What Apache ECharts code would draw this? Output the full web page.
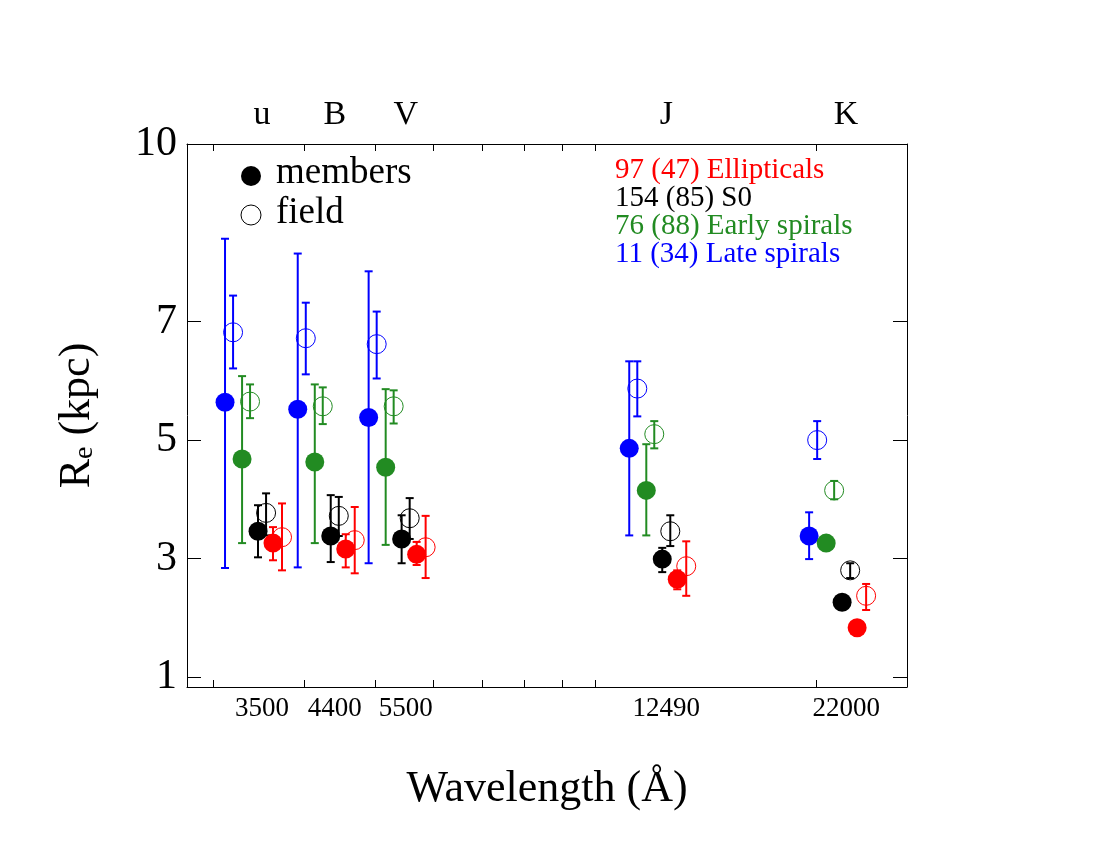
<!DOCTYPE html>
<html><head><meta charset="utf-8">
<script src="https://cdn.jsdelivr.net/npm/echarts@6/dist/echarts.min.js"></script>
<style>html,body{margin:0;background:#fff}#c{width:1100px;height:850px}</style>
</head><body><div id="c"></div>
<script>
const bands = ['u','B','V','J','K'];
const wavelengths = [3500, 4400, 5500, 12490, 22000];
const xTickWl = [3000,4000,5000,6000,7000,8000,9000,10000,20000];
const yTicks = [1,3,5,7,10];
// [value, low, high] per band
const ellMem = [[3.26,2.97,3.53],[3.16,2.85,3.41],[3.07,2.89,3.28],[2.65,2.48,2.80],[1.83,null,null]];
const ellFld = [[3.36,2.80,3.93],[3.31,2.75,3.87],[3.19,2.67,3.72],[2.87,2.37,3.29],[2.37,2.13,2.57]];
const s0Mem  = [[3.46,3.02,3.90],[3.38,2.94,4.07],[3.33,2.92,3.73],[2.99,2.77,3.18],[2.26,null,null]];
const s0Fld  = [[3.77,3.39,4.10],[3.72,3.38,4.04],[3.68,3.33,4.02],[3.46,3.21,3.73],[2.80,2.67,2.92]];
const esMem  = [[4.68,3.26,6.08],[4.63,3.26,5.94],[4.54,3.23,5.86],[4.15,3.39,4.93],[3.26,null,null]];
const esFld  = [[5.65,5.37,5.94],[5.57,5.27,5.89],[5.57,5.28,5.84],[5.10,4.86,5.32],[4.15,4.00,4.31]];
const lsMem  = [[5.64,2.84,8.40],[5.52,2.85,8.15],[5.38,2.92,7.85],[4.86,3.39,6.33],[3.38,2.99,3.78]];
const lsFld  = [[6.82,6.21,7.44],[6.72,6.11,7.32],[6.62,6.04,7.17],[5.87,5.40,6.33],[5.00,4.68,5.32]];

const RED='#ff0000', BLK='#000000', GRN='#228b22', BLU='#0000ff';
const groups = [
  {d:lsMem, c:BLU, filled:true,  off:-0.0506},
  {d:lsFld, c:BLU, filled:false, off:-0.0396},
  {d:esMem, c:GRN, filled:true,  off:-0.0273},
  {d:esFld, c:GRN, filled:false, off:-0.0164},
  {d:s0Mem, c:BLK, filled:true,  off:-0.0055},
  {d:s0Fld, c:BLK, filled:false, off:0.0055},
  {d:ellMem,c:RED, filled:true,  off:0.015},
  {d:ellFld,c:RED, filled:false, off:0.0273}
];
const L = Math.log10;
const XMIN=3.4415, XMAX=4.4256;
const font='Liberation Serif';
const series=[];
groups.forEach(g=>{
  const pts = g.d.map((v,i)=>[L(wavelengths[i])+g.off, v[0], v[1], v[2]]);
  series.push({type:'custom', data:pts.filter(p=>p[2]!=null), z:2,
    renderItem:(params,api)=>{
      const x=api.value(0);
      const a=api.coord([x,api.value(2)]), b=api.coord([x,api.value(3)]);
      const w=4;
      const st={stroke:g.c,lineWidth:2};
      return {type:'group',children:[
        {type:'line',shape:{x1:a[0],y1:a[1],x2:b[0],y2:b[1]},style:st},
        {type:'line',shape:{x1:a[0]-w,y1:a[1],x2:a[0]+w,y2:a[1]},style:st},
        {type:'line',shape:{x1:b[0]-w,y1:b[1],x2:b[0]+w,y2:b[1]},style:st}]};
    }});
  series.push({type:'scatter', data:pts.map(p=>[p[0],p[1]]), symbol:'circle', z:3,
    symbolSize:19,
    itemStyle: g.filled?{color:g.c,opacity:1}:{color:'rgba(0,0,0,0)',borderColor:g.c,borderWidth:1,opacity:1}});
});
const fmt=(arr)=>v=>{const i=wavelengths.findIndex(w=>Math.abs(L(w)-v)<1e-6);return i>=0?arr[i]:''};
const chart=echarts.init(document.getElementById('c'));
chart.setOption({
  animation:false,
  grid:{left:187,right:193,top:144,bottom:163},
  xAxis:[{type:'value',min:XMIN,max:XMAX,position:'bottom',
      axisLine:{show:true,onZero:false,lineStyle:{color:'#000'}},splitLine:{show:false},
      axisTick:{show:true,inside:true,length:7,customValues:xTickWl.map(L),lineStyle:{color:'#000'}},
      axisLabel:{customValues:wavelengths.map(L),formatter:fmt(wavelengths),
        color:'#000',fontFamily:font,fontSize:27,margin:8},
      name:'Wavelength (Å)',nameLocation:'middle',nameGap:80,nameTextStyle:{fontFamily:font,fontSize:44,color:'#000'}},
    {type:'value',min:XMIN,max:XMAX,position:'top',
      axisLine:{show:true,onZero:false,lineStyle:{color:'#000'}},splitLine:{show:false},
      axisTick:{show:true,inside:true,length:7,customValues:xTickWl.map(L),lineStyle:{color:'#000'}},
      axisLabel:{customValues:wavelengths.map(L),formatter:fmt(bands),
        color:'#000',fontFamily:font,fontSize:34,margin:12}}],
  yAxis:[{type:'value',min:0.83,max:10,
      axisLine:{show:true,onZero:false,lineStyle:{color:'#000'}},splitLine:{show:false},
      axisTick:{show:true,inside:true,length:14,customValues:yTicks,lineStyle:{color:'#000'}},
      axisLabel:{customValues:yTicks,color:'#000',fontFamily:font,fontSize:42,margin:10},
      name:'{a|R}{b|e}{a| (kpc)}',nameLocation:'middle',nameGap:88,nameRotate:90,
      nameTextStyle:{rich:{a:{fontFamily:font,fontSize:44,color:'#000'},b:{fontFamily:font,fontSize:28,color:'#000',verticalAlign:'bottom'}}}},
    {type:'value',min:0.83,max:10,position:'right',
      axisLine:{show:true,onZero:false,lineStyle:{color:'#000'}},splitLine:{show:false},
      axisTick:{show:true,inside:true,length:14,customValues:yTicks,lineStyle:{color:'#000'}},
      axisLabel:{show:false}}],
  graphic:[
    {type:'circle',shape:{cx:251,cy:176,r:10},style:{fill:'#000'}},
    {type:'circle',shape:{cx:251,cy:215,r:10},style:{fill:'none',stroke:'#000',lineWidth:1}},
    {type:'text',left:276,top:155,style:{text:'members',font:'37px "Liberation Serif"',fill:'#000'}},
    {type:'text',left:276,top:195,style:{text:'field',font:'37px "Liberation Serif"',fill:'#000'}},
    {type:'text',left:615,top:156,style:{text:'97 (47) Ellipticals',font:'29px "Liberation Serif"',fill:RED}},
    {type:'text',left:615,top:184,style:{text:'154 (85) S0',font:'29px "Liberation Serif"',fill:BLK}},
    {type:'text',left:615,top:212,style:{text:'76 (88) Early spirals',font:'29px "Liberation Serif"',fill:GRN}},
    {type:'text',left:615,top:240,style:{text:'11 (34) Late spirals',font:'29px "Liberation Serif"',fill:BLU}}
  ],
  series:series
});
</script></body></html>
